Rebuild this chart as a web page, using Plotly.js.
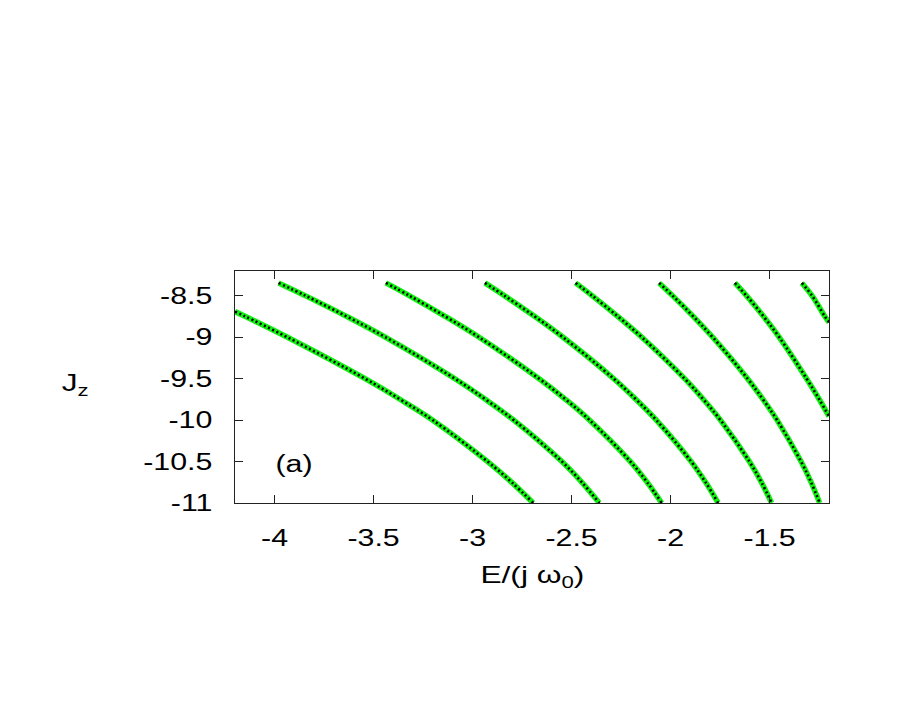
<!DOCTYPE html>
<html>
<head>
<meta charset="utf-8">
<script src="https://cdn.plot.ly/plotly-3.0.1.min.js"></script>
<style>
  html, body { margin: 0; padding: 0; background: #fff; }
  #chart { width: 913px; height: 706px; }
</style>
</head>
<body>
<div id="chart"></div>
<script>
// level curves: E/(j w0) against J_z
var curve1E = [-4.2, -4.152, -3.935, -3.543, -3.363, -3.201, -2.924, -2.802, -2.694];
var curve1J = [-8.69, -8.744, -9.0, -9.5, -9.754, -10.0, -10.5, -10.751, -11.0];

var fullJ   = [-8.344, -8.5, -8.744, -9.0, -9.5, -9.754, -10.0, -10.5, -10.751, -11.0];
var curve2E = [-3.98, -3.843, -3.639, -3.439, -3.089, -2.932, -2.792, -2.549, -2.448, -2.36];
var curve3E = [-3.438, -3.318, -3.141, -2.967, -2.664, -2.528, -2.409, -2.203, -2.118, -2.045];
var curve4E = [-2.938, -2.838, -2.689, -2.543, -2.287, -2.173, -2.072, -1.896, -1.823, -1.76];
var curve5E = [-2.48, -2.395, -2.269, -2.145, -1.929, -1.833, -1.748, -1.602, -1.541, -1.49];
var curve6E = [-2.058, -1.989, -1.887, -1.787, -1.611, -1.532, -1.462, -1.341, -1.29, -1.247];

var curve7E = [-1.675, -1.616, -1.532, -1.451, -1.313, -1.248, -1.2];
var curve7J = [-8.344, -8.5, -8.744, -9.0, -9.5, -9.754, -9.954];

var curve8E = [-1.337, -1.285, -1.222, -1.2];
var curve8J = [-8.344, -8.5, -8.744, -8.82];

var xTicks = [-4, -3.5, -3, -2.5, -2, -1.5];
var xTickText = ['-4', '-3.5', '-3', '-2.5', '-2', '-1.5'];
var yTicks = [-11, -10.5, -10, -9.5, -9, -8.5];
var yTickText = ['-11', '-10.5', '-10', '-9.5', '-9', '-8.5'];

var curves = [
  [curve1E, curve1J],
  [curve2E, fullJ],
  [curve3E, fullJ],
  [curve4E, fullJ],
  [curve5E, fullJ],
  [curve6E, fullJ],
  [curve7E, curve7J],
  [curve8E, curve8J]
];

var data = [];
// green band under each curve
curves.forEach(function(c) {
  data.push({
    x: c[0], y: c[1], mode: 'lines', hoverinfo: 'skip',
    line: {color: '#11f011', width: 5.5, shape: 'spline', smoothing: 1}
  });
});
// black dotted points on top
curves.forEach(function(c) {
  data.push({
    x: c[0], y: c[1], mode: 'lines', hoverinfo: 'skip',
    line: {color: '#000', width: 2.6, shape: 'spline', smoothing: 1, dash: '2px,2.6px'}
  });
});

var font = 'Liberation Sans, Arial, sans-serif';

var axisCommon = {
  showgrid: false, zeroline: false,
  showline: true, linecolor: '#222', linewidth: 1, mirror: 'ticks',
  ticks: 'inside', ticklen: 8, tickwidth: 1, tickcolor: '#222',
  tickfont: {family: font, size: 23, color: '#000'}
};

var layout = {
  width: 913, height: 706,
  margin: {l: 235, r: 84, t: 271, b: 203},
  paper_bgcolor: '#fff', plot_bgcolor: '#fff',
  showlegend: false,
  xaxis: Object.assign({}, axisCommon, {
    range: [-4.2, -1.2], tickmode: 'array', tickvals: xTicks, ticktext: xTickText,
    ticklabelstandoff: 14
  }),
  yaxis: Object.assign({}, axisCommon, {
    range: [-11, -8.2], tickmode: 'array', tickvals: yTicks, ticktext: yTickText,
    ticklabelstandoff: 17
  }),
  annotations: [
    {xref: 'paper', yref: 'paper', x: 0.5, y: 0, yanchor: 'top', yshift: -56,
     showarrow: false, text: 'E/(j ω<sub>0</sub>)', font: {family: font, size: 24, color: '#000'}},
    {xref: 'paper', yref: 'paper', x: -0.27, y: 0.51, xanchor: 'center', yanchor: 'middle',
     showarrow: false, text: 'J<sub>z</sub>', font: {family: font, size: 24, color: '#000'}},
    {xref: 'x', yref: 'y', x: -3.903, y: -10.535, xanchor: 'center', yanchor: 'middle',
     showarrow: false, text: '(a)', font: {family: font, size: 23, color: '#000'}}
  ]
};

// the original lettering is drawn wider than the font: stretch it sideways
function widenText() {
  var sel = '#chart .xtick text, #chart .ytick text, #chart .annotation-text';
  document.querySelectorAll(sel).forEach(function(t) {
    var w = t.getComputedTextLength();
    if (w > 0) {
      t.setAttribute('textLength', (w * 1.32).toFixed(1));
      t.setAttribute('lengthAdjust', 'spacingAndGlyphs');
    }
  });
}

Plotly.newPlot('chart', data, layout, {displayModeBar: false, staticPlot: true}).then(widenText);
</script>
</body>
</html>
